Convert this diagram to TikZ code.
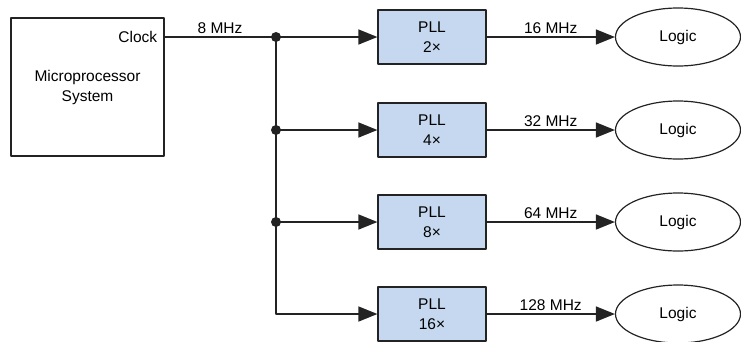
\documentclass[tikz,border=0pt]{standalone}
\usepackage{fontspec}
\setmainfont{Liberation Sans}
\usetikzlibrary{arrows.meta,shapes.geometric,positioning}
\definecolor{pllblue}{RGB}{197,216,239}
\definecolor{linegray}{RGB}{35,35,35}
\tikzset{
  mpbox/.style={draw=linegray, line width=1.2, minimum width=153, minimum height=138, align=center, inner sep=0},
  pllbox/.style={draw=linegray, fill=pllblue, line width=1.2, minimum width=108, minimum height=54, align=center, inner sep=0},
  logic/.style={draw=linegray, ellipse, line width=1.2, minimum width=125, minimum height=58, inner sep=0},
  freq/.style={above, inner sep=3}
}
\begin{document}
\begin{tikzpicture}[x=1pt, y=-1pt, line join=round, line width=1.5, draw=linegray,
    >={Triangle[length=19pt, width=15pt]}, font=\fontsize{15.5}{20}\selectfont]
  \useasboundingbox (0,0) rectangle (741,341);
  % source
  \node[mpbox] (mp) at (87.5,87) {Microprocessor\\System};
  \coordinate (clkout) at (164,37);
  \node[anchor=east, inner sep=6] (clk) at (clkout) {Clock};
  % junctions
  \coordinate (j1) at (276,37);
  \coordinate (j2) at (276,130);
  \coordinate (j3) at (276,222);
  % multipliers
  \node[pllbox] (pll1) at (432,37) {PLL\\2×};
  \node[pllbox] (pll2) at (432,130) {PLL\\4×};
  \node[pllbox] (pll3) at (432,222) {PLL\\8×};
  \node[pllbox] (pll4) at (432,314) {PLL\\16×};
  % loads
  \node[logic] (log1) at (678,37) {Logic};
  \node[logic] (log2) at (678,130) {Logic};
  \node[logic] (log3) at (678,222) {Logic};
  \node[logic] (log4) at (678,314) {Logic};
  % wiring
  \draw (clkout) -- node[freq] {8 MHz} (j1);
  \draw[->] (j1) -- (pll1);
  \draw[->] (j2) -- (pll2);
  \draw[->] (j3) -- (pll3);
  \draw[->] (j1) |- (pll4);
  \fill[linegray] (j1) circle (5) (j2) circle (5) (j3) circle (5);
  \draw[->] (pll1) -- node[freq] {16 MHz} (log1);
  \draw[->] (pll2) -- node[freq] {32 MHz} (log2);
  \draw[->] (pll3) -- node[freq] {64 MHz} (log3);
  \draw[->] (pll4) -- node[freq] {128 MHz} (log4);
\end{tikzpicture}
\end{document}
